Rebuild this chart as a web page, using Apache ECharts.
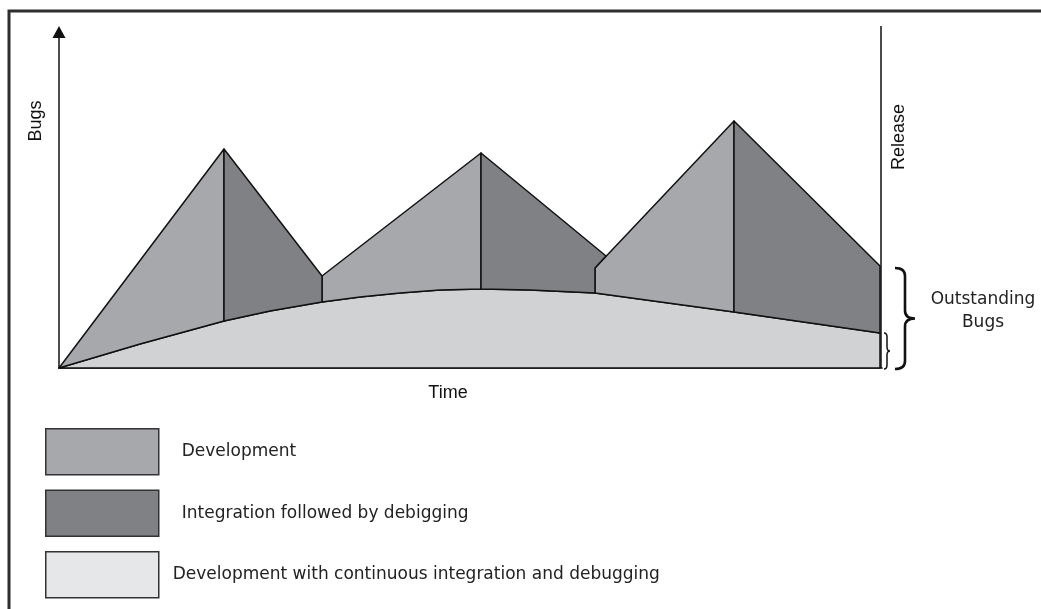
<!DOCTYPE html>
<html lang="en">
<head>
    <meta charset="UTF-8">
    <title>Bugs over Time</title>
    <script src="https://cdn.jsdelivr.net/npm/echarts@6/dist/echarts.min.js"></script>
    <style>
        body, html { margin: 0; padding: 0; width: 100%; height: 100%; background: #fff; }
        #chart { width: 1041px; height: 609px; }
    </style>
</head>
<body>
<div id="chart"></div>
<script>
    // x = time, y = bugs (same units as the axis)
    const seriesNames = ['Development', 'Integration followed by debigging', 'Development with continuous integration and debugging'];

    // continuous integration curve
    const baseCurve = [[59, 0], [140, 24], [224, 47], [270, 57], [322, 66], [360, 71], [400, 75], [440, 78],
        [481, 79], [530, 78], [595, 75], [734, 56], [880, 35]];

    // development phases (rising edges)
    const devTops = [
        [[59, 0], [224, 219]],
        [[322, 92], [481, 215]],
        [[595, 100], [734, 247]]
    ];
    // integration phases (falling edges)
    const intTops = [
        [[224, 219], [322, 92]],
        [[481, 215], [606, 112], [595, 100]],
        [[734, 247], [880, 102]]
    ];

    const releaseLine = [[881, 0], [881, 342]];
    // braces: [x, from, to]
    const braces = [[881, 0, 35], [881, 0, 100]];

    const colors = {dev: '#a7a8ab', int: '#808184', base: '#d1d2d4', baseLegend: '#e6e7e8', line: '#111'};

    function baseBetween(a, b) {
        return baseCurve.filter(p => p[0] >= a && p[0] <= b).reverse();
    }
    function closeShape(tops) {
        return tops.concat(baseBetween(tops[0][0], tops[tops.length - 1][0]));
    }
    const devShapes = devTops.map(closeShape);
    const intShapes = intTops.map(closeShape);
    const baseShape = [baseCurve.concat([[880, 0]])];

    function polygonRender(shapes) {
        return function (params, api) {
            const pts = shapes[params.dataIndex].map(p => api.coord(p));
            return {
                type: 'polygon',
                shape: {points: pts},
                style: {fill: api.visual('color'), stroke: colors.line, lineWidth: 1.5, lineJoin: 'round'}
            };
        };
    }

    function braceRender(params, api) {
        const b = braces[params.dataIndex];
        const top = api.coord([b[0], b[2]]);
        const bot = api.coord([b[0], b[1]]);
        const big = params.dataIndex === 1;
        const x0 = top[0] + (big ? 14 : 3);
        const w = big ? 20 : 6;
        const r = big ? 8 : 4;
        const y0 = top[1], y1 = bot[1] + 1, ym = (y0 + y1) / 2;
        const xm = x0 + w / 2, xt = x0 + w;
        const d = 'M' + x0 + ' ' + y0 + ' Q' + xm + ' ' + y0 + ' ' + xm + ' ' + (y0 + r) +
            ' L' + xm + ' ' + (ym - r) + ' Q' + xm + ' ' + ym + ' ' + xt + ' ' + ym +
            ' Q' + xm + ' ' + ym + ' ' + xm + ' ' + (ym + r) +
            ' L' + xm + ' ' + (y1 - r) + ' Q' + xm + ' ' + y1 + ' ' + x0 + ' ' + y1;
        return {
            type: 'path',
            shape: {pathData: d},
            style: {fill: null, stroke: colors.line, lineWidth: big ? 2.6 : 1.5}
        };
    }

    const chart = echarts.init(document.getElementById('chart'));

    const option = {
        animation: false,
        grid: {left: 59, right: 159, top: 32, bottom: 241},
        xAxis: {
            type: 'value', min: 59, max: 882,
            axisLine: {show: true, lineStyle: {color: colors.line, width: 1.7}},
            axisTick: {show: false}, axisLabel: {show: false}, splitLine: {show: false}
        },
        yAxis: {
            type: 'value', min: 0, max: 336,
            axisLine: {show: true, symbol: ['none', 'triangle'], symbolSize: [13, 12],
                lineStyle: {color: colors.line, width: 1.5}},
            axisTick: {show: false}, axisLabel: {show: false}, splitLine: {show: false}
        },
        legend: {
            orient: 'vertical', left: 45, top: 428, padding: 0,
            itemWidth: 113, itemHeight: 46, itemGap: 14,
            selectedMode: false,
            icon: 'rect',
            itemStyle: {borderColor: '#333', borderWidth: 1.5},
            textStyle: {fontFamily: 'DejaVu Sans', fontSize: 17, color: '#222'},
            data: [
                {name: seriesNames[0], textStyle: {padding: [0, 0, 0, 18]}},
                {name: seriesNames[1], textStyle: {padding: [0, 0, 0, 18]}},
                {name: seriesNames[2], itemStyle: {color: colors.baseLegend}, textStyle: {padding: [0, 0, 0, 9]}}
            ]
        },
        graphic: [
            {type: 'rect', shape: {x: 9, y: 11, width: 1100, height: 700},
                style: {fill: null, stroke: '#2e2e2e', lineWidth: 3}},
            {type: 'text', x: 36, y: 121, rotation: Math.PI / 2,
                style: {text: 'Bugs', fontFamily: 'Liberation Sans', fontSize: 18, fill: '#111', align: 'center', verticalAlign: 'middle'}},
            {type: 'text', x: 899, y: 137, rotation: Math.PI / 2,
                style: {text: 'Release', fontFamily: 'Liberation Sans', fontSize: 18, fill: '#111', align: 'center', verticalAlign: 'middle'}},
            {type: 'text', x: 448, y: 393,
                style: {text: 'Time', fontFamily: 'Liberation Sans', fontSize: 18, fill: '#111', align: 'center', verticalAlign: 'middle'}},
            {type: 'text', x: 983, y: 311,
                style: {text: 'Outstanding\nBugs', fontFamily: 'DejaVu Sans', fontSize: 17, lineHeight: 23, fill: '#222', align: 'center', verticalAlign: 'middle'}}
        ],
        series: [
            {
                name: seriesNames[2], type: 'custom', itemStyle: {color: colors.base},
                renderItem: polygonRender(baseShape),
                data: baseShape.map((s, i) => [i])
            },
            {
                name: seriesNames[0], type: 'custom', itemStyle: {color: colors.dev},
                renderItem: polygonRender(devShapes),
                data: devShapes.map((s, i) => [i])
            },
            {
                name: seriesNames[1], type: 'custom', itemStyle: {color: colors.int},
                renderItem: polygonRender(intShapes),
                data: intShapes.map((s, i) => [i])
            },
            {
                name: 'Release', type: 'line', data: releaseLine, symbol: 'none', clip: false,
                lineStyle: {color: colors.line, width: 1.5}
            },
            {
                name: 'Braces', type: 'custom', renderItem: braceRender, clip: false,
                data: braces.map((b, i) => [i])
            }
        ]
    };

    chart.setOption(option);
</script>
</body>
</html>
